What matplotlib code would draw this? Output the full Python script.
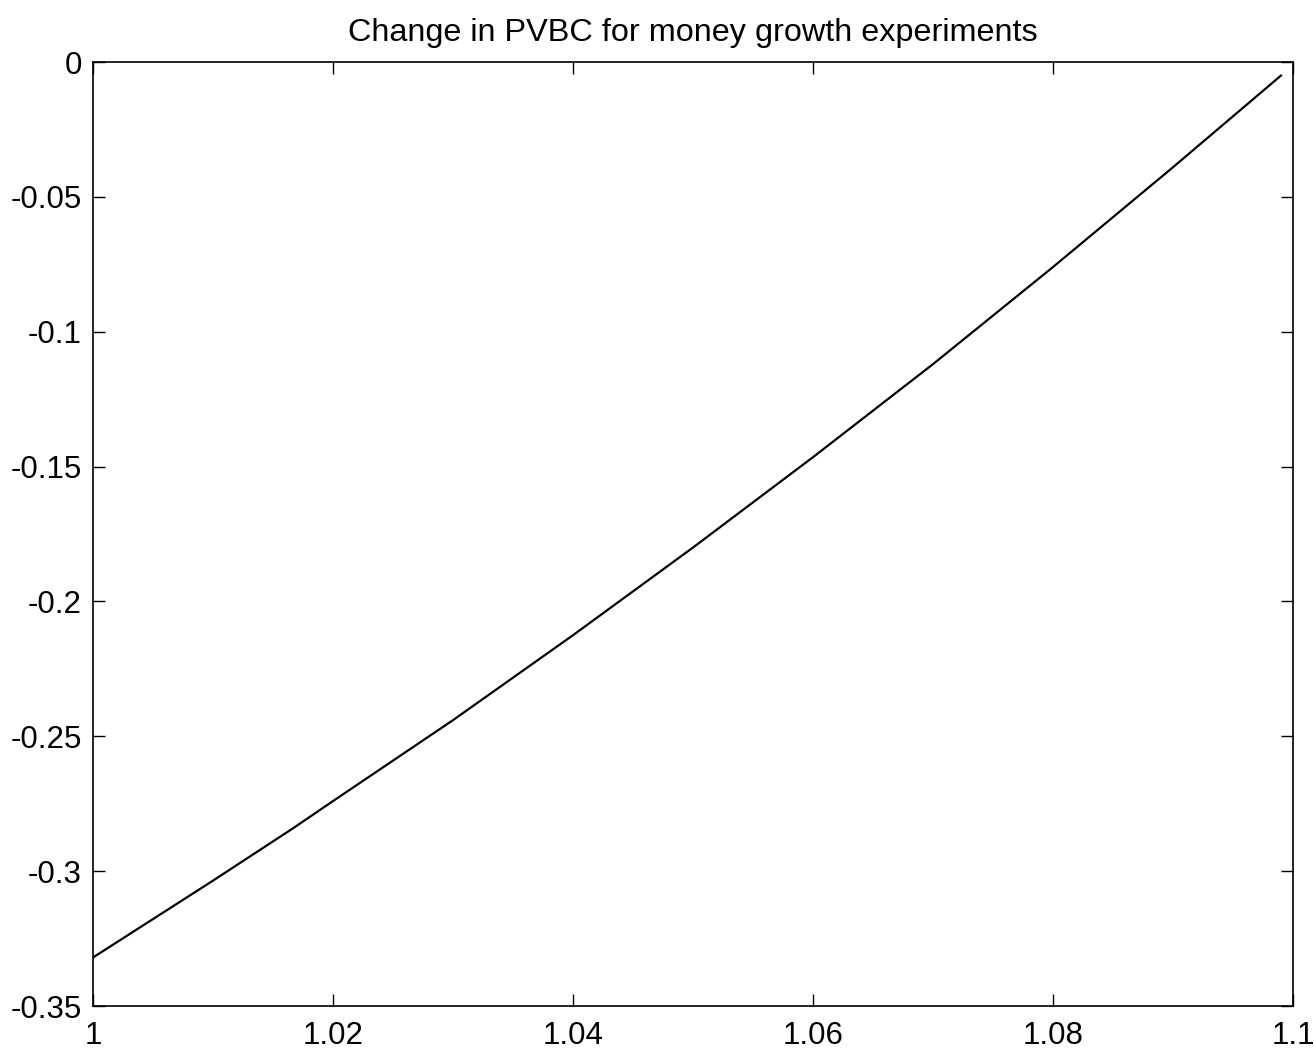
import numpy as np
import matplotlib
matplotlib.use('agg')
import matplotlib.pyplot as plt

# money growth factor and change in PVBC
growth = [1.0, 1.01, 1.0167, 1.02, 1.03, 1.04, 1.05, 1.06, 1.07, 1.08, 1.09, 1.099]
pvbc   = [-0.332, -0.3035, -0.284, -0.274, -0.244, -0.2125, -0.180, -0.1465, -0.112, -0.076, -0.039, -0.005]

xticks = [1.0, 1.02, 1.04, 1.06, 1.08, 1.1]
xlabels = ['1', '1.02', '1.04', '1.06', '1.08', '1.1']
yticks = [-0.35, -0.3, -0.25, -0.2, -0.15, -0.1, -0.05, 0]
ylabels = ['-0.35', '-0.3', '-0.25', '-0.2', '-0.15', '-0.1', '-0.05', '0']

plt.rcParams['font.family'] = ['Liberation Sans', 'DejaVu Sans']

fig = plt.figure(figsize=(13.14, 10.52), dpi=100)
ax = fig.add_axes([0.0708, 0.0437, 0.9132, 0.8973])

ax.plot(growth, pvbc, color='black', linewidth=1.6)

ax.set_xlim(1.0, 1.1)
ax.set_ylim(-0.35, 0)
ax.set_xticks(xticks)
ax.set_xticklabels(xlabels)
ax.set_yticks(yticks)
ax.set_yticklabels(ylabels)
ax.tick_params(axis='both', direction='in', length=8.5, width=1, labelsize=22.5,
               top=True, right=True)
ax.tick_params(axis='x', pad=11)
ax.tick_params(axis='y', pad=8)
for sp in ax.spines.values():
    sp.set_linewidth(1.2)

ax.set_title('Change in PVBC for money growth experiments', fontsize=23.3, pad=15)

plt.savefig('out.png', dpi=100)
